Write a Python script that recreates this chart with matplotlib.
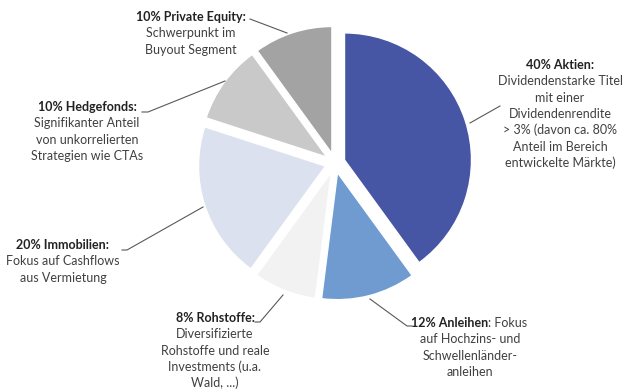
import matplotlib
matplotlib.use("Agg")
import matplotlib.pyplot as plt

# data
labels = ["Aktien", "Anleihen", "Rohstoffe", "Immobilien", "Hedgefonds", "Private Equity"]
values = [40, 12, 8, 20, 10, 10]
colors = ["#4656a4", "#6f9bd0", "#f2f2f2", "#dce1ef", "#c9c9c9", "#a3a3a3"]
descriptions = [
    ["Dividendenstarke Titel", "mit einer", "Dividendenrendite",
     "> 3% (davon ca. 80%", "Anteil im Bereich", "entwickelte Märkte)"],
    ["auf Hochzins- und", "Schwellenländer-", "anleihen"],
    ["Diversifizierte", "Rohstoffe und reale", "Investments (u.a.", "Wald, ...)"],
    ["Fokus auf Cashflows", "aus Vermietung"],
    ["Signifikanter Anteil", "von unkorrelierten", "Strategien wie CTAs"],
    ["Schwerpunkt im", "Buyout Segment"],
]

W, H = 632, 389
plt.rcParams["font.family"] = ["Lato", "DejaVu Sans"]

fig = plt.figure(figsize=(W / 100, H / 100), dpi=100)
ax = fig.add_axes([0, 0, 1, 1])

# pie in pixel-like coordinates (y up)
cx, cy, r = 335, H - 163, 127
explode = [10, 10, 10, 10, 10, 10]
ax.pie(values, colors=colors, startangle=90, counterclock=False,
       center=(cx, cy), radius=r, explode=explode,
       wedgeprops=dict(edgecolor="white", linewidth=1))
ax.set_xlim(0, W)
ax.set_ylim(0, H)
ax.set_aspect("equal")
ax.axis("off")

def py(y):
    return H - y

step = 16.3
fs = 9
txt = "#404040"
hdr = "#222222"

# text blocks: (center x, first line y in pixels from top)
blocks = {
    "Aktien": (560, 65),
    "Rohstoffe": (215, 318),
    "Immobilien": (63, 245),
    "Hedgefonds": (87, 107),
    "Private Equity": (191, 17),
}
for lab, val, desc in zip(labels, values, descriptions):
    if lab == "Anleihen":
        continue
    x, y0 = blocks[lab]
    ax.text(x, py(y0), f"{val}% {lab}:", ha="center", va="center",
            fontsize=fs, fontweight="bold", color=hdr)
    for k, line in enumerate(desc):
        ax.text(x, py(y0 + (k + 1) * step), line, ha="center", va="center",
                fontsize=fs, color=txt)

# Anleihen: bold title and text on the same line
i = labels.index("Anleihen")
ax.text(488, py(323), f"{values[i]}% {labels[i]}", ha="right", va="center",
        fontsize=fs, fontweight="bold", color=hdr)
ax.text(488, py(323), ": Fokus", ha="left", va="center", fontsize=fs, color=txt)
for k, line in enumerate(descriptions[i]):
    ax.text(470, py(323 + (k + 1) * step), line, ha="center", va="center",
            fontsize=fs, color=txt)

# leader lines
leaders = [
    [(500, 106), (470, 123)],
    [(412, 326), (407, 326), (370, 299)],
    [(255, 322), (260, 322), (283, 295)],
    [(122, 250), (127, 250), (203, 207)],
    [(142, 112), (148, 112), (225, 81)],
    [(250, 19), (287, 33)],
]
for pts in leaders:
    xs = [p[0] for p in pts]
    ys = [py(p[1]) for p in pts]
    ax.plot(xs, ys, color="#595959", lw=0.8)

fig.savefig("out.png", dpi=100)
